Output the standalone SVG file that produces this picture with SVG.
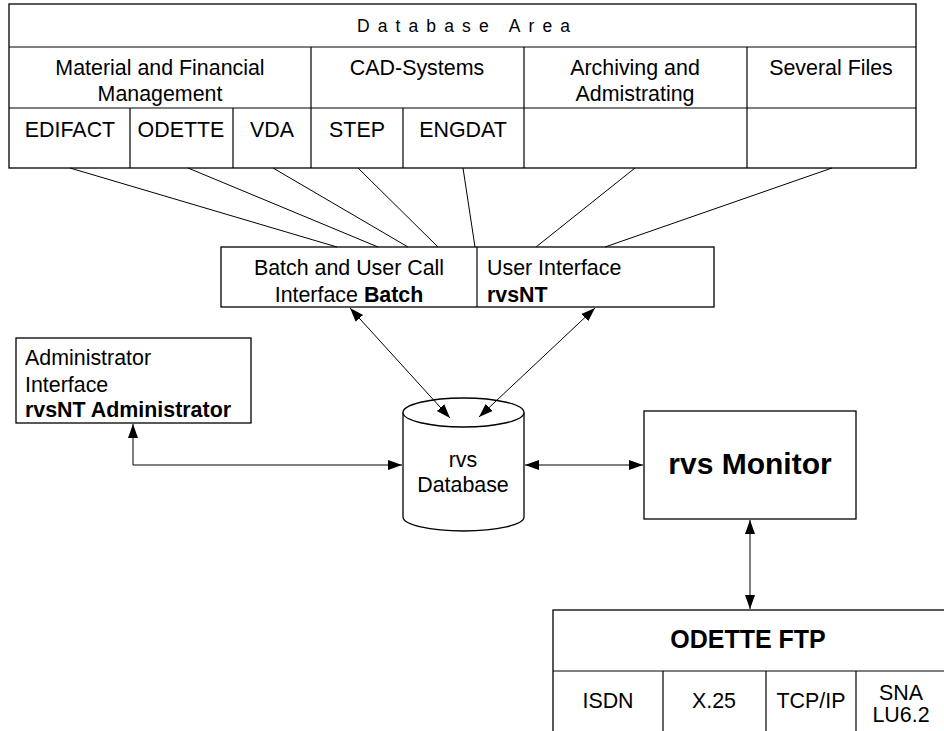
<svg xmlns="http://www.w3.org/2000/svg" width="944" height="731" viewBox="0 0 944 731">
<style>
text{font-family:"Liberation Sans",Arial,sans-serif;font-size:21.4px;fill:#000}
.b{font-weight:bold}
.box{fill:#fff;stroke:#000;stroke-width:1.3}
.ln{stroke:#000;stroke-width:1.2;fill:none}
.c{stroke:#000;stroke-width:1;fill:none}
.m{text-anchor:middle}
</style>
<defs>
<marker id="ah" markerUnits="userSpaceOnUse" markerWidth="15" markerHeight="12" refX="14" refY="5" orient="auto-start-reverse" viewBox="0 0 15 10">
<path d="M0,0 L14,5 L0,10 z" fill="#000"/>
</marker>
</defs>
<rect width="944" height="731" fill="#fff"/>

<g id="database-area">
<rect class="box" x="9" y="4" width="907" height="164"/>
<line class="ln" x1="9" y1="47" x2="916" y2="47"/>
<line class="ln" x1="9" y1="108" x2="916" y2="108"/>
<line class="ln" x1="311" y1="47" x2="311" y2="168"/>
<line class="ln" x1="524" y1="47" x2="524" y2="168"/>
<line class="ln" x1="747" y1="47" x2="747" y2="168"/>
<line class="ln" x1="130" y1="108" x2="130" y2="168"/>
<line class="ln" x1="233" y1="108" x2="233" y2="168"/>
<line class="ln" x1="403" y1="108" x2="403" y2="168"/>
<text x="357" y="32" style="font-size:17.5px;letter-spacing:8.1px">Database Area</text>
<text class="m" x="160" y="75">Material and Financial</text>
<text class="m" x="160" y="101">Management</text>
<text class="m" x="417" y="75">CAD-Systems</text>
<text class="m" x="635" y="75">Archiving and</text>
<text class="m" x="635" y="101">Admistrating</text>
<text class="m" x="831" y="75">Several Files</text>
<text class="m" x="70" y="137">EDIFACT</text>
<text class="m" x="181" y="137">ODETTE</text>
<text class="m" x="272" y="137">VDA</text>
<text class="m" x="357" y="137">STEP</text>
<text class="m" x="463" y="137">ENGDAT</text>
</g>

<g id="interface-box">
<rect class="box" x="221" y="247" width="493" height="60"/>
<line class="ln" x1="477" y1="247" x2="477" y2="307"/>
<text class="m" x="349" y="275">Batch and User Call</text>
<text class="m" x="349" y="302">Interface <tspan class="b">Batch</tspan></text>
<text x="487" y="275">User Interface</text>
<text class="b" x="487" y="302">rvsNT</text>
</g>

<g id="admin">
<rect class="box" x="16" y="338" width="235" height="85"/>
<text x="25" y="365">Administrator</text>
<text x="25" y="392">Interface</text>
<text class="b" x="25" y="417">rvsNT Administrator</text>
</g>

<g id="rvs-database">
<path class="box" d="M403,412.5 L403,517 A60.5,14 0 0 0 524,517 L524,412.5"/>
<ellipse class="box" cx="463.5" cy="412.5" rx="60.5" ry="14.5"/>
<text class="m" x="463" y="467">rvs</text>
<text class="m" x="463" y="492">Database</text>
</g>

<g id="rvs-monitor">
<rect class="box" x="644" y="411" width="212" height="108"/>
<text class="m b" x="750" y="474" style="font-size:30px">rvs Monitor</text>
</g>

<g id="odette-ftp">
<rect class="box" x="553" y="610" width="400" height="130"/>
<line class="ln" x1="553" y1="671" x2="944" y2="671"/>
<line class="ln" x1="663" y1="671" x2="663" y2="731"/>
<line class="ln" x1="766" y1="671" x2="766" y2="731"/>
<line class="ln" x1="856" y1="671" x2="856" y2="731"/>
<text class="m b" x="748" y="648" style="font-size:25px">ODETTE FTP</text>
<text class="m" x="608" y="708">ISDN</text>
<text class="m" x="714" y="708">X.25</text>
<text class="m" x="811" y="708">TCP/IP</text>
<text class="m" x="901" y="700">SNA</text>
<text class="m" x="901" y="722">LU6.2</text>
</g>

<g id="connectors">
<line class="c" x1="70" y1="168" x2="337" y2="247"/>
<line class="c" x1="188" y1="168" x2="378" y2="247"/>
<line class="c" x1="273" y1="168" x2="408" y2="247"/>
<line class="c" x1="358" y1="168" x2="438" y2="247"/>
<line class="c" x1="463" y1="168" x2="475" y2="247"/>
<line class="c" x1="635" y1="168" x2="536" y2="247"/>
<line class="c" x1="832" y1="168" x2="605" y2="247"/>
<line class="c" x1="350" y1="308" x2="450" y2="418" marker-start="url(#ah)" marker-end="url(#ah)"/>
<line class="c" x1="595" y1="308" x2="479" y2="417" marker-start="url(#ah)" marker-end="url(#ah)"/>
<polyline class="c" points="133,424 133,465 402,465" marker-start="url(#ah)" marker-end="url(#ah)"/>
<line class="c" x1="525" y1="465" x2="643" y2="465" marker-start="url(#ah)" marker-end="url(#ah)"/>
<line class="c" x1="750" y1="520" x2="750" y2="609" marker-start="url(#ah)" marker-end="url(#ah)"/>
</g>
</svg>
